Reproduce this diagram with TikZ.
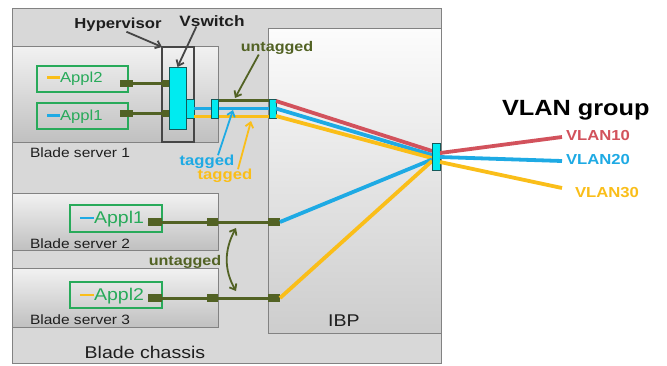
\documentclass[tikz,border=0pt]{standalone}
\usepackage{fontspec}
\setmainfont{Liberation Sans}[FakeStretch=1.15]
\usetikzlibrary{arrows.meta}
\definecolor{olv}{RGB}{82,98,36}
\definecolor{vred}{RGB}{210,82,92}
\definecolor{vblue}{RGB}{30,170,228}
\definecolor{vyel}{RGB}{250,190,25}
\definecolor{agreen}{RGB}{40,170,90}
\definecolor{cyn}{RGB}{0,235,240}
\definecolor{cynb}{RGB}{20,90,90}
\definecolor{txt}{RGB}{30,30,30}
\definecolor{chgray}{RGB}{216,216,216}
\definecolor{bord}{RGB}{130,130,130}
\definecolor{srvtop}{RGB}{242,242,242}
\definecolor{srvbot}{RGB}{192,192,192}
\definecolor{ibptop}{RGB}{252,252,252}
\definecolor{ibpbot}{RGB}{205,205,205}
\definecolor{hypb}{RGB}{70,70,70}
\newcommand{\fs}[1]{\fontsize{#1bp}{#1bp}\selectfont}
\begin{document}
\begin{tikzpicture}[x=1bp,y=-1bp,
  every node/.style={inner sep=0,outer sep=0},
  chassisbox/.style={draw=bord,line width=1bp,fill=chgray},
  srvbox/.style={draw=bord,line width=1bp,top color=srvtop,bottom color=srvbot},
  ibpbox/.style={draw=bord,line width=1bp,top color=ibptop,bottom color=ibpbot},
  hypbox/.style={draw=hypb,line width=1.6bp},
  cynbox/.style={draw=cynb,line width=0.8bp,fill=cyn},
  applbox/.style={draw=agreen,line width=1.8bp},
  endsq/.style={fill=olv,minimum width=12bp,minimum height=8bp},
  olvline/.style={olv,line width=3bp},
  vline/.style={line width=3.8bp},
  ptr/.style={-{Straight Barb[length=5bp,width=8bp]},line width=1.8bp},
  ptrtwo/.style={{Straight Barb[length=5bp,width=8bp]}-{Straight Barb[length=5bp,width=8bp]},line width=1.8bp},
  lbl/.style={text=txt},
  appltxt/.style={text=agreen,anchor=west},
]
\useasboundingbox (0,0) rectangle (667,365);
\fill[white] (0,0) rectangle (667,365);
% containers
\node[chassisbox,minimum width=428bp,minimum height=355bp] (ch) at (227,185.5) {};
\node[ibpbox,minimum width=173bp,minimum height=305bp] (ibp) at (354.5,180.5) {};
\node[srvbox,minimum width=205bp,minimum height=96bp] (s1) at (115.5,94) {};
\node[srvbox,minimum width=205bp,minimum height=57bp] (s2) at (115.5,221.5) {};
\node[srvbox,minimum width=205bp,minimum height=59bp] (s3) at (115.5,297.5) {};
% labels of containers
\node[lbl,anchor=center,font=\fs{17}] (chl) at (145,352) {Blade chassis};
\node[lbl,anchor=center,font=\fs{17}] (ibpl) at (344,321) {IBP};
\node[lbl,anchor=west,font=\fs{13.5}] (s1l) at (30,153) {Blade server 1};
\node[lbl,anchor=west,font=\fs{13.5}] (s2l) at (30,244) {Blade server 2};
\node[lbl,anchor=west,font=\fs{13.5}] (s3l) at (30,320) {Blade server 3};
% hypervisor and vswitch
\node[hypbox,minimum width=32bp,minimum height=95bp] (hyp) at (178,94.5) {};
% appl boxes
\node[applbox,minimum width=91bp,minimum height=26bp] (a2s1) at (82.5,79) {};
\node[applbox,minimum width=91bp,minimum height=26bp] (a1s1) at (82.5,116) {};
\node[applbox,minimum width=92bp,minimum height=27bp] (a1s2) at (116,218.5) {};
\node[applbox,minimum width=92bp,minimum height=26bp] (a2s3) at (116,295) {};
\node[appltxt,font=\fs{14.5}] (t2s1) at (47,79) {\textcolor{vyel}{\rule[0.28em]{13bp}{2.6bp}}Appl2};
\node[appltxt,font=\fs{14.5}] (t1s1) at (47,117) {\textcolor{vblue}{\rule[0.28em]{13bp}{2.6bp}}Appl1};
\node[appltxt,font=\fs{17}] (t1s2) at (80,219) {\textcolor{vblue}{\rule[0.24em]{14bp}{2.8bp}}Appl1};
\node[appltxt,font=\fs{17}] (t2s3) at (80,296) {\textcolor{vyel}{\rule[0.24em]{14bp}{2.8bp}}Appl2};
% server 1 connectors to vswitch
\node[endsq,minimum width=13bp,minimum height=7bp] (q1a) at (126.5,83) {};
\node[endsq,minimum width=11bp,minimum height=7bp] (q1b) at (167.5,83) {};
\node[endsq,minimum width=13bp,minimum height=7bp] (q2a) at (126.5,113.5) {};
\node[endsq,minimum width=11bp,minimum height=7bp] (q2b) at (167.5,113.5) {};
\draw[olvline] (q1a) -- (q1b);
\draw[olvline] (q2a) -- (q2b);
\node[cynbox,minimum width=17bp,minimum height=62bp] (vsw) at (177.5,98) {};
\node[cynbox,minimum width=8bp,minimum height=19bp] (vp) at (190,108.5) {};
% uplink ports
\node[cynbox,minimum width=7bp,minimum height=19bp] (p2) at (272.5,108.5) {};
\node[cynbox,minimum width=8bp,minimum height=27bp] (ip) at (436,156.5) {};
\coordinate (ipr) at (432,151);
\coordinate (ipb) at (432,155);
\coordinate (ipy) at (432,158);
\coordinate (ipb2) at (432,159.5);
\coordinate (ipy2) at (432,161);
\draw[vline,vblue] (vp.east) -- (p2.west);
\draw[vline,vyel] ([yshift=1.5bp]vp.south east) -- ([yshift=1.5bp]p2.south west);
\draw[olvline] ([xshift=-58bp,yshift=-1bp]p2.north west) -- ([yshift=-1bp]p2.north west);
\node[cynbox,minimum width=7bp,minimum height=19bp] (p1) at (214.5,108.5) {};
\draw[vline,vred] ([yshift=-2bp]p2.north east) -- (ipr);
\draw[vline,vblue] (p2.east) -- (ipb);
\draw[vline,vyel] ([yshift=2bp]p2.south east) -- (ipy);
% server 2 and 3 connectors
\node[endsq,minimum width=14bp] (r1a) at (155,222) {};
\node[endsq,minimum width=11bp] (r1b) at (212.5,222) {};
\node[endsq,minimum width=12bp] (r1c) at (274,222) {};
\node[endsq,minimum width=14bp] (r2a) at (155,298) {};
\node[endsq,minimum width=11bp] (r2b) at (212.5,298) {};
\node[endsq,minimum width=12bp] (r2c) at (274,298) {};
\draw[olvline] (r1a) -- (r1c);
\draw[olvline] (r2a) -- (r2c);
\draw[vline,vblue] (r1c.east) -- (ipb2);
\draw[vline,vyel] (r2c.east) -- (ipy2);
\node[cynbox,minimum width=8bp,minimum height=27bp] (ip2) at (436,156.5) {};
% right side VLANs
\node[anchor=west,font=\fs{22}\bfseries,text=black] (vg) at (502,110) {VLAN group};
\node[anchor=west,font=\fs{14.5}\bfseries,text=vred] (v10) at (566,136) {VLAN10};
\node[anchor=west,font=\fs{14.5}\bfseries,text=vblue] (v20) at (566,160) {VLAN20};
\node[anchor=west,font=\fs{14.5}\bfseries,text=vyel] (v30) at (575,193) {VLAN30};
\coordinate (e10) at (562,137);
\coordinate (e20) at (562,161);
\coordinate (e30) at (562,188);
\draw[vline,vred] ([yshift=3.5bp]ip2.east) -- (e10);
\draw[vline,vblue] ([yshift=-0.5bp]ip2.east) -- (e20);
\draw[vline,vyel] ([yshift=-5.5bp]ip2.east) -- (e30);
% annotations
\node[lbl,font=\fs{14.5}\bfseries] (hv) at (118,25) {Hypervisor};
\node[lbl,font=\fs{15}\bfseries] (vs) at (212,21) {Vswitch};
\draw[ptr,hypb] ([xshift=52bp]hv.south west) -- (hyp.north west);
\draw[ptr,hypb] ([xshift=17bp]vs.south west) -- (vsw.north);
\node[font=\fs{14}\bfseries,text=olv] (ut) at (277,48) {untagged};
\coordinate (utt) at (235,98);
\draw[ptr,olv] ([xshift=18bp]ut.south west) -- (utt);
\node[font=\fs{14.5}\bfseries,text=vblue] (tb) at (207,162) {tagged};
\coordinate (tbt) at (233,110);
\draw[ptr,vblue] ([xshift=11bp]tb.north) -- (tbt);
\node[font=\fs{14.5}\bfseries,text=vyel] (ty) at (225,176) {tagged};
\coordinate (tyt) at (251,121);
\draw[ptr,vyel] ([xshift=13bp]ty.north) -- (tyt);
\node[font=\fs{14}\bfseries,text=olv] (ul) at (185,262) {untagged};
\coordinate (ua) at (236,228);
\coordinate (ub) at (236,291);
\draw[ptrtwo,olv] (ua) .. controls (224,250) and (224,270) .. (ub);
\end{tikzpicture}
\end{document}
